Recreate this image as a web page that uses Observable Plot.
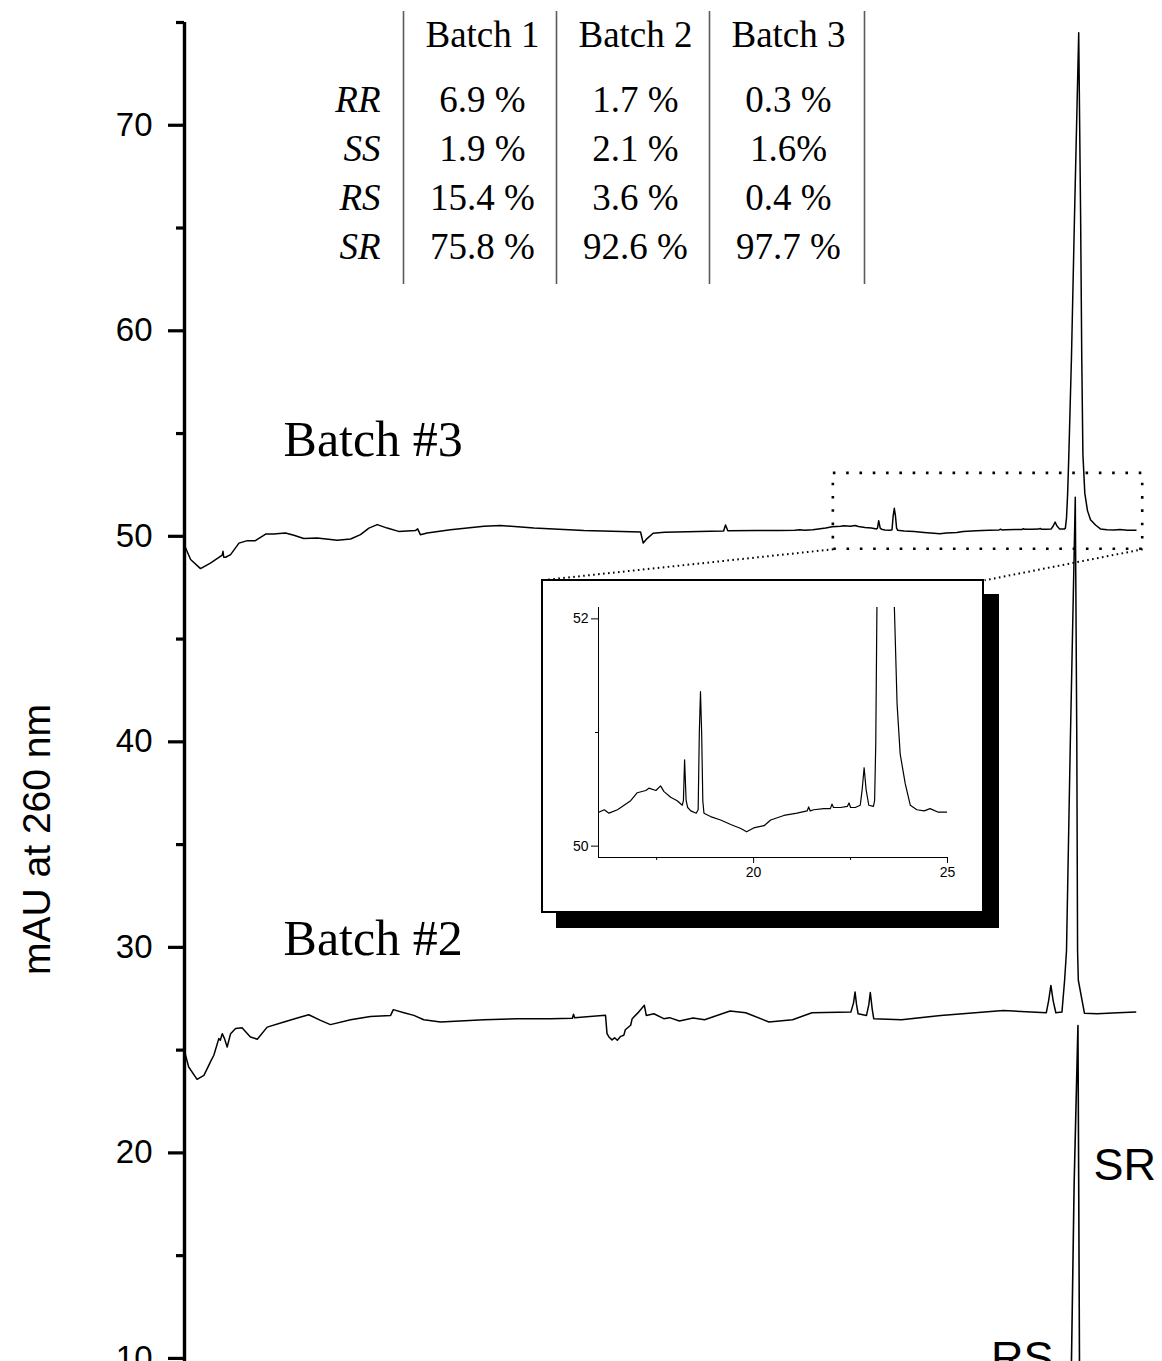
<!DOCTYPE html>
<html>
<head>
<meta charset="utf-8">
<script src="https://cdn.jsdelivr.net/npm/d3@7"></script>
<script src="https://cdn.jsdelivr.net/npm/@observablehq/plot@0.6"></script>
<style>
  body { margin: 0; background: #fff; }
  #wrap { position: relative; width: 1162px; height: 1361px; overflow: hidden; background: #fff; }
  #wrap svg { display: block; }
  #table { position: absolute; left: 0; top: 0; }
  #inset { position: absolute; left: 541px; top: 579px; width: 443px; height: 334px; box-sizing: border-box;
           border: 2px solid #000; background: #fff; box-shadow: 15px 15px 0 0 #000; }
</style>
</head>
<body>
<div id="wrap">
  <div id="main"></div>
  <div id="table"></div>
  <div id="inset"></div>
</div>
<script>
// ---------------- data ----------------
// retention time (min), absorbance (mAU at 260 nm)
const batch3Trace = [
  [0.00,49.50],[0.03,49.43],[0.16,48.87],[0.42,48.43],[0.68,48.70],[0.99,49.08],[1.01,49.27],[1.03,48.98],
  [1.08,48.98],[1.21,49.11],[1.43,49.67],[1.65,49.79],[1.86,49.79],[2.13,50.11],[2.34,50.11],[2.65,50.16],
  [2.87,50.05],[3.13,49.89],[3.48,49.92],[4.01,49.81],[4.36,49.87],[4.62,50.08],[4.84,50.40],[5.06,50.57],
  [5.32,50.40],[5.62,50.24],[6.06,50.28],[6.12,50.36],[6.19,50.08],[6.37,50.16],[6.98,50.32],[7.86,50.49],
  [8.29,50.53],[9.17,50.40],[10.48,50.28],[11.97,50.21],[12.04,49.67],[12.14,49.89],[12.30,50.15],[12.60,50.20],
  [13.20,50.22],[13.80,50.25],[14.15,50.26],[14.20,50.55],[14.26,50.27],[15.00,50.28],[15.60,50.28],[16.02,50.30],
  [16.15,50.32],[16.27,50.29],[16.49,50.32],[16.83,50.40],[17.00,50.47],[17.22,50.49],[17.30,50.51],[17.48,50.49],
  [17.60,50.53],[17.69,50.48],[17.86,50.43],[18.03,50.40],[18.16,50.36],[18.19,50.40],[18.22,50.76],[18.26,50.40],
  [18.30,50.34],[18.38,50.31],[18.52,50.29],[18.57,50.32],[18.60,51.00],[18.63,51.36],[18.66,51.00],[18.69,50.40],
  [18.72,50.29],[18.89,50.26],[19.15,50.23],[19.41,50.19],[19.67,50.155],[19.82,50.126],[20.00,50.16],[20.27,50.18],
  [20.44,50.23],[20.78,50.27],[21.12,50.29],[21.38,50.31],[21.42,50.345],[21.46,50.31],[21.55,50.32],[21.81,50.33],
  [21.98,50.33],[22.02,50.37],[22.06,50.34],[22.24,50.34],[22.42,50.35],[22.46,50.38],[22.50,50.34],[22.62,50.34],
  [22.75,50.36],[22.80,50.50],[22.85,50.69],[22.90,50.50],[22.97,50.36],[23.09,50.35],[23.12,50.40],[23.15,50.90],
  [23.18,52.10],[23.21,53.90],[23.28,58.70],[23.36,65.60],[23.47,74.50],[23.52,65.60],[23.55,58.70],[23.58,54.00],
  [23.63,52.10],[23.70,51.25],[23.78,50.81],[23.91,50.55],[24.04,50.36],[24.21,50.32],[24.40,50.31],[24.55,50.33],
  [24.75,50.30],[25.00,50.30]
];
const batch2Trace = [
  [0.00,24.95],[0.11,24.18],[0.33,23.58],[0.51,23.77],[0.70,24.50],[0.77,24.75],[0.90,25.56],[0.94,25.48],
  [0.99,25.80],[1.05,25.56],[1.12,25.15],[1.21,25.80],[1.34,26.05],[1.51,26.09],[1.73,25.64],[1.91,25.53],
  [2.17,26.12],[2.61,26.37],[2.96,26.56],[3.26,26.72],[3.57,26.45],[3.83,26.24],[4.36,26.48],[4.88,26.64],
  [5.41,26.69],[5.48,26.97],[5.76,26.82],[6.02,26.69],[6.28,26.48],[6.72,26.37],[7.86,26.48],[8.73,26.53],
  [9.61,26.53],[10.18,26.55],[10.21,26.75],[10.24,26.58],[11.05,26.70],[11.09,25.80],[11.14,25.64],[11.22,25.50],
  [11.29,25.60],[11.36,25.48],[11.45,25.67],[11.53,25.72],[11.57,25.99],[11.71,26.21],[11.75,26.53],[11.92,26.85],
  [12.07,27.18],[12.12,26.69],[12.32,26.77],[12.58,26.53],[12.73,26.58],[12.99,26.42],[13.35,26.56],[13.65,26.48],
  [14.32,26.90],[14.73,26.82],[15.34,26.37],[15.96,26.48],[16.47,26.82],[17.49,26.85],[17.56,27.30],[17.60,27.83],
  [17.64,27.20],[17.68,26.77],[17.90,26.69],[17.96,27.20],[18.00,27.80],[18.05,27.00],[18.09,26.53],[18.82,26.48],
  [19.85,26.69],[21.49,26.93],[22.62,26.82],[22.68,27.40],[22.74,28.15],[22.80,27.40],[22.87,26.82],[23.03,26.85],
  [23.10,28.40],[23.15,29.85],[23.25,40.00],[23.38,51.90],[23.42,40.00],[23.44,29.85],[23.46,28.40],[23.62,26.80],
  [23.95,26.77],[24.50,26.82],[24.97,26.85]
];
// batch 1: only its main (SR) peak rises into the visible window
const batch1Trace = [
  [23.00,3.0],[23.20,6.0],[23.28,9.85],[23.35,18.5],[23.45,26.2],[23.47,18.5],[23.49,9.85],[23.60,4.5],[24.00,3.0]
];

const majorTicks = [10, 20, 30, 40, 50, 60, 70];
const minorTicks = [15, 25, 35, 45, 55, 65, 75];
const yLabel = "mAU at 260 nm";

// table of isomer ratios
const batchNames = ["Batch 1", "Batch 2", "Batch 3"];
const isomers = ["RR", "SS", "RS", "SR"];
const batch1Pct = ["6.9 %", "1.9 %", "15.4 %", "75.8 %"];
const batch2Pct = ["1.7 %", "2.1 %", "3.6 %", "92.6 %"];
const batch3Pct = ["0.3 %", "1.6%", "0.4 %", "97.7 %"];

// inset window
const insetTicksX = [20, 25];
const insetMinorX = [17.5, 22.5];
const insetTicksY = [50, 52];
const insetMinorY = [51];

// ---------------- main chart ----------------
const toPts = arr => arr.map(([t, v]) => ({t, v}));
const b1 = toPts(batch1Trace), b2 = toPts(batch2Trace), b3 = toPts(batch3Trace);

const zoomBox = [{t1: 17.03, t2: 25.15, v1: 49.37, v2: 53.06}];
const connectors = [
  {t1: 17.03, v1: 49.37, t2: 9.37, v2: 47.86},
  {t1: 25.15, v1: 49.37, t2: 21.0, v2: 47.86}
];

const sans = "'Liberation Sans', Arial, Helvetica, sans-serif";
const serif = "'Liberation Serif', 'Times New Roman', serif";

const main = Plot.plot({
  width: 1162, height: 1361,
  marginLeft: 184, marginRight: 25.5, marginTop: 22, marginBottom: 0,
  x: {domain: [0, 25], axis: null},
  y: {domain: [9.85, 75]},
  style: {fontFamily: sans, background: "transparent", color: "#000"},
  marks: [
    Plot.axisY(majorTicks, {tickSize: 16, tickPadding: 16, strokeWidth: 3.2, fontSize: 33, label: null, tickFormat: d => String(d)}),
    Plot.axisY(minorTicks, {tickSize: 8, strokeWidth: 3.2, label: null, tickFormat: () => ""}),
    Plot.ruleX([0], {strokeWidth: 3.4}),
    Plot.text([{label: yLabel, v: 35.25}], {text: "label", y: "v", frameAnchor: "left", dx: -146.5, rotate: -90,
      textAnchor: "middle", fontSize: 39, fontFamily: sans}),
    Plot.rect(zoomBox, {x1: "t1", x2: "t2", y1: "v1", y2: "v2", fill: "none", stroke: "#000", strokeWidth: 2.6, strokeDasharray: "2.6 10.7"}),
    Plot.link(connectors, {x1: "t1", y1: "v1", x2: "t2", y2: "v2", stroke: "#000", strokeWidth: 2, strokeDasharray: "1.6 3.4"}),
    Plot.line(b1, {x: "t", y: "v", stroke: "#000", strokeWidth: 1.6, clip: true}),
    Plot.line(b2, {x: "t", y: "v", stroke: "#000", strokeWidth: 1.5, clip: true}),
    Plot.line(b3, {x: "t", y: "v", stroke: "#000", strokeWidth: 1.5, clip: true}),
    Plot.text([{s: "Batch #3", t: 2.6, v: 53.89}, {s: "Batch #2", t: 2.6, v: 29.61}],
      {text: "s", x: "t", y: "v", textAnchor: "start", lineAnchor: "bottom", fontSize: 50, fontFamily: serif}),
    Plot.text([{s: "SR", t: 23.86, v: 18.66}],
      {text: "s", x: "t", y: "v", textAnchor: "start", lineAnchor: "bottom", fontSize: 45, fontFamily: sans}),
    Plot.text([{s: "RS", t: 22.81, v: 9.27}],
      {text: "s", x: "t", y: "v", textAnchor: "end", lineAnchor: "bottom", fontSize: 45, fontFamily: sans})
  ]
});
document.getElementById("main").appendChild(main);

// ---------------- table ----------------
const pctByBatch = [batch1Pct, batch2Pct, batch3Pct];
const cells = [];
batchNames.forEach((b, j) => isomers.forEach((iso, i) => cells.push({batch: b, iso, value: pctByBatch[j][i]})));

const table = Plot.plot({
  width: 1162, height: 300,
  marginLeft: 400, marginRight: 298, marginTop: 11, marginBottom: 16,
  x: {type: "point", domain: batchNames, range: [481, 788], padding: 0, axis: null},
  y: {type: "point", domain: isomers, range: [111, 258], padding: 0, axis: null},
  style: {fontFamily: serif, background: "transparent", color: "#000"},
  marks: [
    Plot.ruleX(batchNames, {x: d => d, dx: -79, stroke: "#5a5a5a", strokeWidth: 1.6}),
    Plot.ruleX(batchNames.slice(-1), {x: d => d, dx: 76, stroke: "#5a5a5a", strokeWidth: 1.6}),
    Plot.text(batchNames, {x: d => d, frameAnchor: "top", dy: 35, lineAnchor: "bottom", fontSize: 37}),
    Plot.text(isomers, {y: d => d, frameAnchor: "left", dx: -20, textAnchor: "end", lineAnchor: "bottom", fontSize: 37, fontStyle: "italic"}),
    Plot.text(cells, {x: "batch", y: "iso", text: "value", lineAnchor: "bottom", fontSize: 37})
  ]
});
document.getElementById("table").appendChild(table);

// ---------------- inset ----------------
const insetData = b3.filter(d => d.t >= 15.9);
const inset = Plot.plot({
  width: 439, height: 330,
  marginLeft: 55, marginRight: 35, marginTop: 26, marginBottom: 54,
  x: {domain: [16, 25]},
  y: {domain: [49.9, 52.1]},
  style: {fontFamily: sans, background: "#fff", color: "#000"},
  marks: [
    Plot.ruleX([16], {stroke: "#000", strokeWidth: 1}),
    Plot.ruleY([49.9], {stroke: "#000", strokeWidth: 1}),
    Plot.axisY(insetTicksY, {tickSize: 7, tickPadding: 3, fontSize: 14, label: null, tickFormat: d => String(d)}),
    Plot.axisY(insetMinorY, {tickSize: 3, label: null, tickFormat: () => ""}),
    Plot.axisX(insetTicksX, {tickSize: 6, tickPadding: 4, fontSize: 14, label: null, tickFormat: d => String(d)}),
    Plot.axisX(insetMinorX, {tickSize: 3, label: null, tickFormat: () => ""}),
    Plot.line(insetData, {x: "t", y: "v", stroke: "#000", strokeWidth: 1.2, clip: true})
  ]
});
document.getElementById("inset").appendChild(inset);
</script>
</body>
</html>
